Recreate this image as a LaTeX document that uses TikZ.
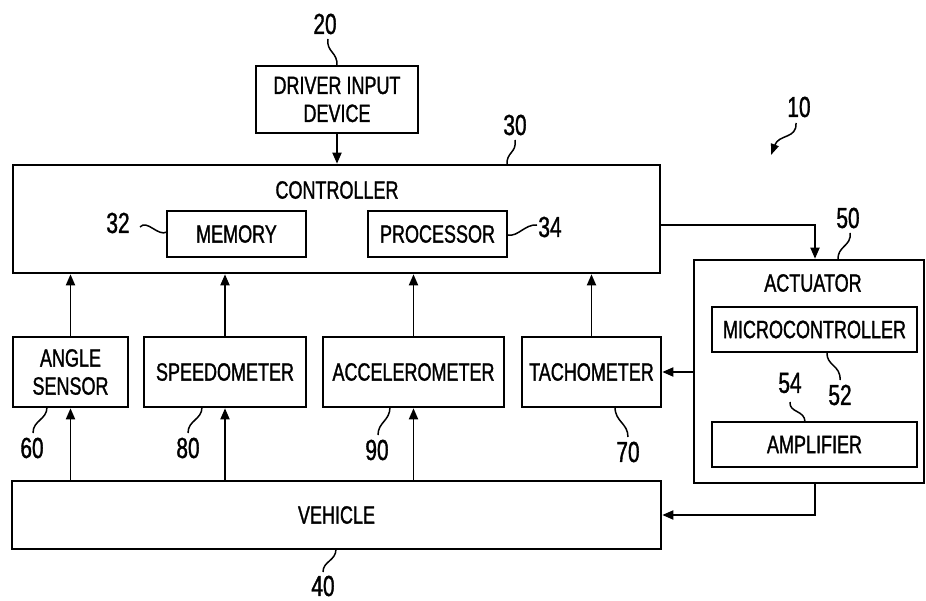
\documentclass[tikz,border=0pt]{standalone}
\usepackage{fontspec}
\setmainfont{Liberation Sans}[FakeStretch=0.72,FakeBold=1.2]
\usetikzlibrary{arrows.meta}
\newcommand\lbltxt{\fontsize{25}{28}\selectfont}
\newcommand\lblnum{\fontsize{29}{30}\selectfont}
\begin{document}
\begin{tikzpicture}[x=1pt,y=-1pt,
  box/.style={draw, line width=2.6pt, inner sep=0pt, font=\lbltxt, align=center},
  plain/.style={inner sep=0pt, font=\lbltxt, align=center},
  ref/.style={inner sep=0pt, font=\lblnum},
  arr/.style={line width=1.8pt, -{Triangle[length=11pt,width=9pt]}},
  conn/.style={line width=1.8pt},
  lead/.style={line width=1.5pt}]
\useasboundingbox (0,0) rectangle (926,601);
% main boxes
\node[box, minimum width=162, minimum height=67] (drv) at (337,99.5) {DRIVER INPUT\\DEVICE};
\node[box, minimum width=647, minimum height=108] (ctrl) at (336.5,219) {};
\node[plain] (ctrltxt) at (337,190) {CONTROLLER};
\node[box, minimum width=139, minimum height=46] (mem) at (236.5,234) {MEMORY};
\node[box, minimum width=139, minimum height=46] (proc) at (437.5,234) {PROCESSOR};
\node[box, minimum width=230, minimum height=223] (act) at (809,371.5) {};
\node[plain] (acttxt) at (813,283) {ACTUATOR};
\node[box, minimum width=205, minimum height=45] (micro) at (814.5,329.5) {MICROCONTROLLER};
\node[box, minimum width=205, minimum height=45] (amp) at (814.5,444.5) {AMPLIFIER};
\node[box, minimum width=115, minimum height=70] (angle) at (70.5,372) {ANGLE\\SENSOR};
\node[box, minimum width=162, minimum height=70] (speedo) at (225,372) {SPEEDOMETER};
\node[box, minimum width=181, minimum height=70] (accel) at (413.5,372) {ACCELEROMETER};
\node[box, minimum width=139, minimum height=70] (tach) at (591.5,372) {TACHOMETER};
\node[box, minimum width=649, minimum height=68] (veh) at (336.5,515) {VEHICLE};
% connectors
\draw[arr] (drv.south) -- (drv.south |- ctrl.north);
\draw[arr] (angle.north) -- (angle.north |- ctrl.south);
\draw[arr] (speedo.north) -- (speedo.north |- ctrl.south);
\draw[arr] (accel.north) -- (accel.north |- ctrl.south);
\draw[arr] (tach.north) -- (tach.north |- ctrl.south);
\draw[arr] (angle.south |- veh.north) -- (angle.south);
\draw[arr] (speedo.south |- veh.north) -- (speedo.south);
\draw[arr] (accel.south |- veh.north) -- (accel.south);
\coordinate (c1) at (815,225);
\draw[arr] (ctrl.east |- c1) -- (c1) -- (c1 |- act.north);
\draw[arr] (act.west |- tach.east) -- (tach.east);
\coordinate (c2) at (815,515);
\draw[arr] (c2 |- act.south) -- (c2) -- (c2 -| veh.east);
% reference numerals
\node[ref] (n20) at (325,24) {20};
\node[ref] (n30) at (515,125) {30};
\node[ref] (n32) at (118,223) {32};
\node[ref] (n34) at (550,227) {34};
\node[ref] (n10) at (799,107) {10};
\node[ref] (n50) at (848,218) {50};
\node[ref] (n52) at (840,395) {52};
\node[ref] (n54) at (790,383) {54};
\node[ref] (n60) at (32,448) {60};
\node[ref] (n80) at (188,448) {80};
\node[ref] (n90) at (377,450) {90};
\node[ref] (n70) at (628,452) {70};
\node[ref] (n40) at (323,586) {40};
% leaders
\draw[lead] (328,39) .. controls (326,52) and (338,52) .. (337,66);
\draw[lead] (515,140) .. controls (517,153) and (506,152) .. (507,165);
\draw[lead] (140,227) .. controls (147,219) and (158,237) .. (167,232);
\draw[lead] (508,235) .. controls (518,237) and (525,224) .. (537,225);
\draw[lead] (850,233) .. controls (852,246) and (837,246) .. (838,260);
\draw[lead, -{Triangle[length=11pt,width=8pt]}] (796,123) .. controls (797,139) and (779,134) .. (771,155);
\draw[lead] (827,352) .. controls (826,366) and (841,365) .. (840,380);
\draw[lead] (790,402) .. controls (789,413) and (805,410) .. (805,422);
\draw[lead] (33,433) .. controls (33,420) and (47,420) .. (47,407);
\draw[lead] (188,433) .. controls (188,420) and (202,420) .. (202,407);
\draw[lead] (378,435) .. controls (378,422) and (390,421) .. (390,407);
\draw[lead] (628,437) .. controls (628,423) and (615,422) .. (615,407);
\draw[lead] (323,572) .. controls (323,561) and (336,561) .. (336,549);
\end{tikzpicture}
\end{document}
